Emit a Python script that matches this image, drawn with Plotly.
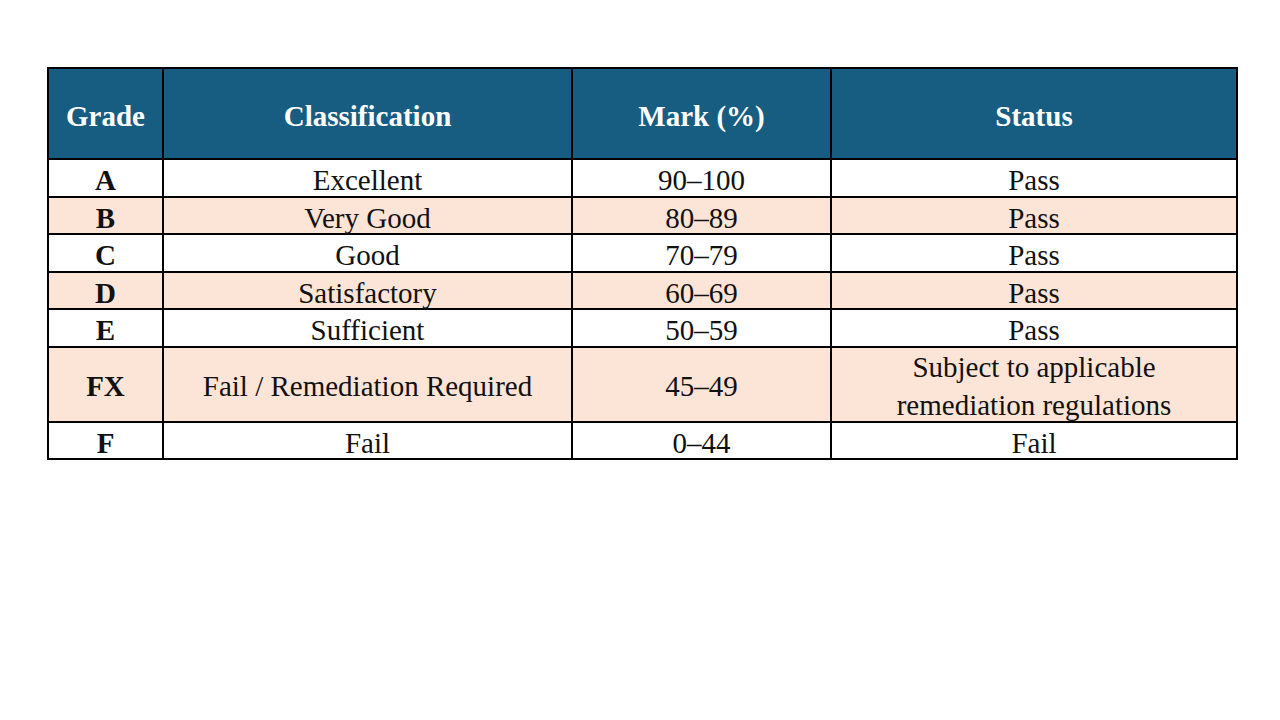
import plotly.graph_objects as go

headers = ["Grade", "Classification", "Mark (%)", "Status"]
grades = ["A", "B", "C", "D", "E", "FX", "F"]
classifications = ["Excellent", "Very Good", "Good", "Satisfactory", "Sufficient",
                   "Fail / Remediation Required", "Fail"]
marks = ["90–100", "80–89", "70–79", "60–69", "50–59", "45–49", "0–44"]
statuses = ["Pass", "Pass", "Pass", "Pass", "Pass",
            "Subject to applicable<br>remediation regulations", "Fail"]

# layout (pixels)
col_widths = [115, 409, 259, 406]
header_h = 91
line_h = 37.5
text_drop = 5  # text sits a little below the cell centre
header_blue = "#175d82"
pink = "#fce4d6"
font_family = "Liberation Serif"
font_size = 29

columns = [["<b>%s</b>" % g for g in grades], classifications, marks, statuses]

# column edges / centres
x_edges = [0]
for w in col_widths:
    x_edges.append(x_edges[-1] + w)
x_mid = [(a + b) / 2 for a, b in zip(x_edges[:-1], x_edges[1:])]

# row edges: header + one row per grade, taller when text wraps
y_edges = [0, header_h]
for i in range(len(grades)):
    n_lines = max(str(col[i]).count("<br>") + 1 for col in columns)
    y_edges.append(y_edges[-1] + line_h * n_lines)
y_mid = [(a + b) / 2 + text_drop for a, b in zip(y_edges[:-1], y_edges[1:])]

# fill codes: 0 header, 1 white, 2 pink
z = [[0] * len(headers)]
for i in range(len(grades)):
    z.append([2 if i % 2 else 1] * len(headers))

fig = go.Figure()
fig.add_trace(go.Heatmap(
    x=x_edges, y=y_edges, z=z,
    zmin=0, zmax=2,
    colorscale=[[0, header_blue], [0.5, "white"], [1, pink]],
    showscale=False, xgap=2, ygap=2, hoverinfo="skip",
))

fig.add_trace(go.Scatter(
    x=x_mid, y=[y_mid[0]] * len(headers),
    text=["<b>%s</b>" % h for h in headers],
    mode="text", textposition="middle center",
    textfont=dict(family=font_family, size=font_size, color="white"),
    hoverinfo="skip", showlegend=False,
))

bx, by, bt = [], [], []
for j, col in enumerate(columns):
    for i, val in enumerate(col):
        bx.append(x_mid[j])
        by.append(y_mid[i + 1])
        bt.append(val)
fig.add_trace(go.Scatter(
    x=bx, y=by, text=bt,
    mode="text", textposition="middle center",
    textfont=dict(family=font_family, size=font_size, color="#111111"),
    hoverinfo="skip", showlegend=False,
))

plot_w = x_edges[-1]
plot_h = y_edges[-1]
left, top = 40, 60
fig.update_xaxes(range=[0, plot_w], showticklabels=False, ticks="",
                 showgrid=False, zeroline=False, showline=True, mirror=True,
                 linecolor="black", linewidth=1, fixedrange=True)
fig.update_yaxes(range=[plot_h, 0], showticklabels=False, ticks="",
                 showgrid=False, zeroline=False, showline=True, mirror=True,
                 linecolor="black", linewidth=1, fixedrange=True)
fig.update_layout(
    width=1280, height=720,
    margin=dict(l=left, r=1280 - left - plot_w, t=top, b=720 - top - plot_h, pad=0),
    paper_bgcolor="white", plot_bgcolor="black",
    showlegend=False,
)

fig.write_html("out.html")
